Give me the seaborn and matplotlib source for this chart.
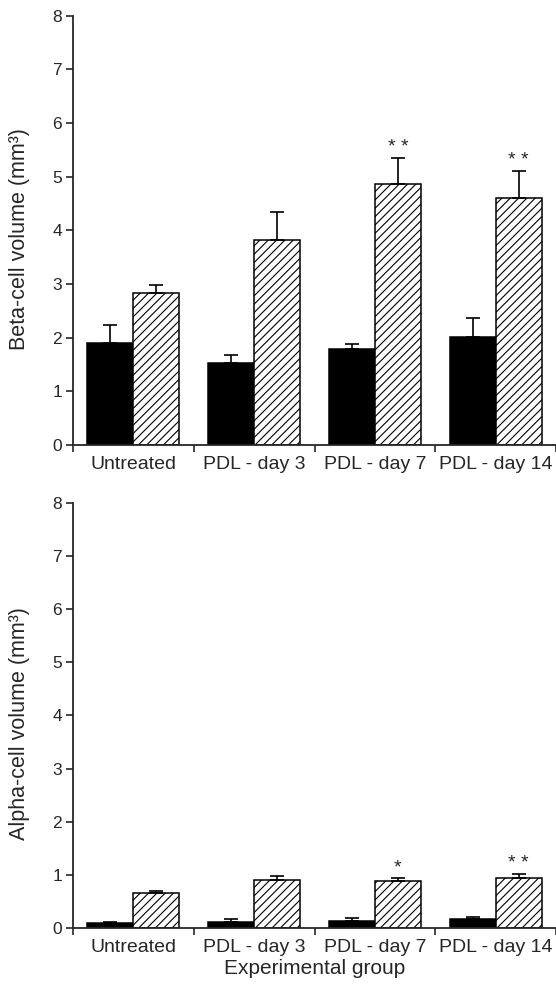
"""
Beta- and alpha-cell volume per experimental group (two stacked bar panels).
"""
import numpy as np
import pandas as pd
import matplotlib
matplotlib.use('Agg')
import matplotlib.pyplot as plt
import seaborn as sns

# Datos
groups = ['Untreated', 'PDL - day 3', 'PDL - day 7', 'PDL - day 14']
series = ['Control', 'PDL']

beta_control = [1.91, 1.53, 1.78, 2.01]
beta_control_err = [0.33, 0.14, 0.11, 0.36]
beta_pdl = [2.83, 3.81, 4.86, 4.60]
beta_pdl_err = [0.16, 0.53, 0.49, 0.51]
beta_stars = ['', '', '**', '**']

alpha_control = [0.10, 0.12, 0.14, 0.17]
alpha_control_err = [0.02, 0.05, 0.04, 0.04]
alpha_pdl = [0.66, 0.91, 0.88, 0.95]
alpha_pdl_err = [0.04, 0.07, 0.06, 0.07]
alpha_stars = ['', '', '*', '**']

yticks = [0, 1, 2, 3, 4, 5, 6, 7, 8]

sns.set_style('ticks')
plt.rcParams['font.family'] = ['Liberation Sans', 'DejaVu Sans']
plt.rcParams['hatch.linewidth'] = 0.8
plt.rcParams['axes.linewidth'] = 1.3


def make_frame(control, pdl):
    return pd.DataFrame({
        'group': groups * 2,
        'series': [series[0]] * len(groups) + [series[1]] * len(groups),
        'value': list(control) + list(pdl),
    })


def draw_panel(ax, control, control_err, pdl, pdl_err, stars, ylabel):
    df = make_frame(control, pdl)
    sns.barplot(
        data=df, x='group', y='value', hue='series',
        order=groups, hue_order=series,
        palette={'Control': 'black', 'PDL': 'white'},
        saturation=1, width=0.76, edgecolor='black', linewidth=1.1,
        errorbar=None, legend=False, ax=ax
    )

    # Rayado de la segunda serie
    for patch in ax.containers[1]:
        patch.set_hatch('////')
        patch.set_facecolor('white')

    # Barras de error (solo hacia arriba)
    for container, errs in zip(ax.containers, [control_err, pdl_err]):
        xs = [p.get_x() + p.get_width() / 2 for p in container]
        hs = [p.get_height() for p in container]
        ax.errorbar(xs, hs, yerr=[np.zeros(len(errs)), errs], fmt='none',
                    ecolor='black', elinewidth=1.2, capsize=5, capthick=1.2,
                    zorder=1)

    # Asteriscos de significancia
    for p, err, s in zip(ax.containers[1], pdl_err, stars):
        if s:
            ax.text(p.get_x() + p.get_width() / 2, p.get_height() + err + 0.03,
                    s.replace('**', '* *'), ha='center', va='bottom',
                    fontsize=14)

    ax.set_xlim(-0.5, 3.5)
    ax.set_ylim(0, 8)
    ax.set_yticks(yticks)
    ax.tick_params(axis='y', direction='out', length=5, width=1.2,
                   labelsize=12.5, pad=3)
    ax.tick_params(axis='x', which='major', length=0, labelsize=14, pad=8)
    ax.set_xticks(np.arange(-0.5, 4.0, 1.0), minor=True)
    ax.tick_params(axis='x', which='minor', direction='out', length=5, width=1.2)
    ax.set_xlabel('')
    ax.set_ylabel(ylabel, fontsize=15.5)
    ax.yaxis.set_label_coords(-0.09, 0.48)
    sns.despine(ax=ax, top=True, right=True)


fig = plt.figure(figsize=(5.56, 9.89), dpi=100)
ax_top = fig.add_axes([0.1313, 0.5500, 0.8687, 0.4343])
ax_bot = fig.add_axes([0.1313, 0.0617, 0.8687, 0.4297])

draw_panel(ax_top, beta_control, beta_control_err, beta_pdl, beta_pdl_err,
           beta_stars, 'Beta-cell volume (mm³)')
draw_panel(ax_bot, alpha_control, alpha_control_err, alpha_pdl, alpha_pdl_err,
           alpha_stars, 'Alpha-cell volume (mm³)')

ax_bot.set_xlabel('Experimental group', fontsize=15)
ax_bot.xaxis.set_label_coords(0.5, -0.072)

fig.savefig('out.png', dpi=100)
plt.close(fig)
